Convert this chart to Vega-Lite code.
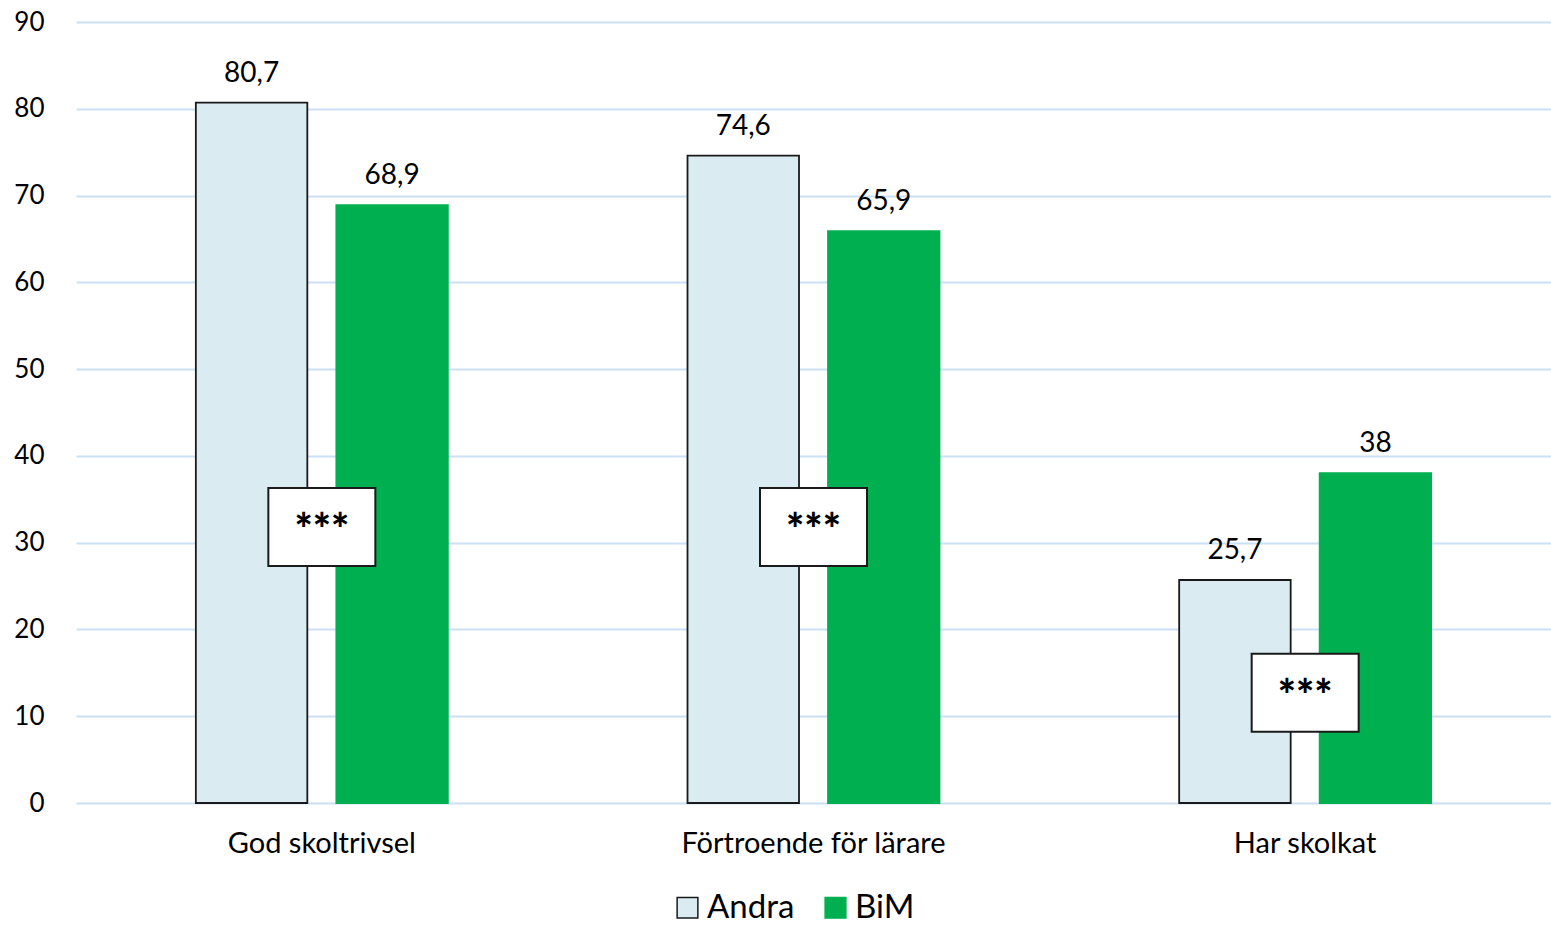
{
  "$schema": "https://vega.github.io/schema/vega-lite/v6.json",
  "width": 1475,
  "height": 781,
  "autosize": {"type": "none"},
  "padding": {"left": 76, "top": 22, "right": 0, "bottom": 123},
  "background": "white",
  "config": {
    "font": "Lato",
    "view": {"stroke": null},
    "axis": {"labelFont": "Lato", "labelColor": "#000000"},
    "legend": {"labelFont": "Lato", "labelColor": "#000000"}
  },
  "datasets": {
    "andelar": [
      {"kategori": "God skoltrivsel", "grupp": "Andra", "varde": 80.7, "etikett": "80,7"},
      {"kategori": "God skoltrivsel", "grupp": "BiM", "varde": 68.9, "etikett": "68,9"},
      {"kategori": "Förtroende för lärare", "grupp": "Andra", "varde": 74.6, "etikett": "74,6"},
      {"kategori": "Förtroende för lärare", "grupp": "BiM", "varde": 65.9, "etikett": "65,9"},
      {"kategori": "Har skolkat", "grupp": "Andra", "varde": 25.7, "etikett": "25,7"},
      {"kategori": "Har skolkat", "grupp": "BiM", "varde": 38, "etikett": "38"}
    ],
    "signifikans": [
      {"kategori": "God skoltrivsel", "lo": 27.3, "hi": 36.3, "mitt": 31.8, "stjarnor": "***"},
      {"kategori": "Förtroende för lärare", "lo": 27.3, "hi": 36.3, "mitt": 31.8, "stjarnor": "***"},
      {"kategori": "Har skolkat", "lo": 8.2, "hi": 17.2, "mitt": 12.7, "stjarnor": "***"}
    ]
  },
  "encoding": {
    "x": {
      "field": "kategori",
      "type": "nominal",
      "sort": ["God skoltrivsel", "Förtroende för lärare", "Har skolkat"],
      "scale": {"paddingInner": 0.4875, "paddingOuter": 0.24375},
      "axis": {
        "title": null,
        "labelAngle": 0,
        "labelFontSize": 29,
        "labelPadding": 26,
        "labelLimit": 0,
        "ticks": false,
        "domain": false
      }
    }
  },
  "layer": [
    {
      "data": {"name": "andelar"},
      "mark": {"type": "bar", "strokeWidth": 1.8},
      "encoding": {
        "xOffset": {
          "field": "grupp",
          "type": "nominal",
          "scale": {"paddingInner": 0.2064, "paddingOuter": 0}
        },
        "y": {
          "field": "varde",
          "type": "quantitative",
          "scale": {"domain": [0, 90], "nice": false},
          "axis": {
            "title": null,
            "values": [0, 10, 20, 30, 40, 50, 60, 70, 80, 90],
            "labelFontSize": 26,
            "labelPadding": 32,
            "ticks": false,
            "domain": false,
            "grid": true,
            "gridColor": "#CCE0F5",
            "gridWidth": 2
          }
        },
        "fill": {
          "field": "grupp",
          "type": "nominal",
          "scale": {"domain": ["Andra", "BiM"], "range": ["#DAEBF2", "#00B050"]},
          "legend": {
            "title": null,
            "orient": "none",
            "legendX": 595,
            "legendY": 869,
            "direction": "horizontal",
            "labelFontSize": 33,
            "labelLimit": 0,
            "symbolType": "square",
            "symbolSize": 430,
            "symbolStrokeWidth": 1.5,
            "labelOffset": 3,
            "columnPadding": 24
          }
        },
        "stroke": {
          "field": "grupp",
          "type": "nominal",
          "scale": {"domain": ["Andra", "BiM"], "range": ["#1A1A1A", "#00B050"]},
          "legend": null
        }
      }
    },
    {
      "data": {"name": "andelar"},
      "mark": {"type": "text", "baseline": "alphabetic", "dy": -21, "fontSize": 28, "color": "#000000"},
      "encoding": {
        "xOffset": {
          "field": "grupp",
          "type": "nominal",
          "scale": {"paddingInner": 0.2064, "paddingOuter": 0}
        },
        "y": {"field": "varde", "type": "quantitative"},
        "text": {"field": "etikett", "type": "nominal"}
      }
    },
    {
      "data": {"name": "signifikans"},
      "mark": {"type": "bar", "width": 107, "fill": "#FFFFFF", "stroke": "#1A1A1A", "strokeWidth": 2},
      "encoding": {
        "y": {"field": "lo", "type": "quantitative"},
        "y2": {"field": "hi"}
      }
    },
    {
      "data": {"name": "signifikans"},
      "mark": {"type": "text", "fontSize": 43, "fontWeight": 900, "baseline": "middle", "dy": 5, "color": "#000000"},
      "encoding": {
        "y": {"field": "mitt", "type": "quantitative"},
        "text": {"field": "stjarnor", "type": "nominal"}
      }
    }
  ]
}
